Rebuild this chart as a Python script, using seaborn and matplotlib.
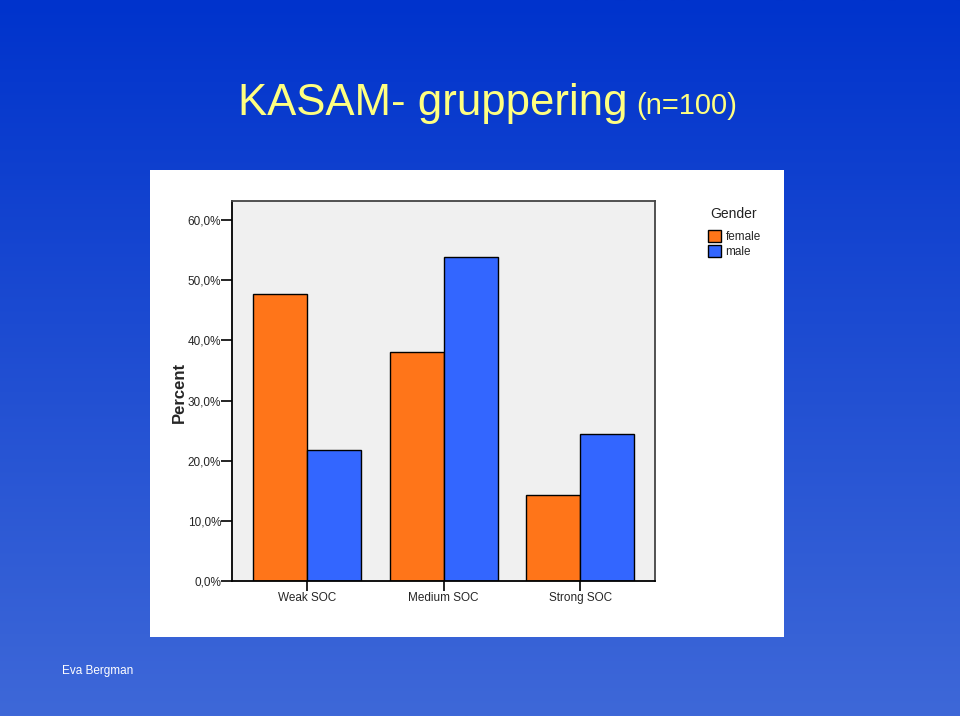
import numpy as np
import pandas as pd
import matplotlib
matplotlib.use("Agg")
import matplotlib.pyplot as plt
from matplotlib.patches import Rectangle
import seaborn as sns

categories = ["Weak SOC", "Medium SOC", "Strong SOC"]
female = [47.7, 38.1, 14.3]
male = [21.8, 53.9, 24.4]
yticks = [0, 10, 20, 30, 40, 50, 60]
ytick_labels = ["0,0%", "10,0%", "20,0%", "30,0%", "40,0%", "50,0%", "60,0%"]

df = pd.DataFrame({
    "SOC": categories * 2,
    "Gender": ["female"] * 3 + ["male"] * 3,
    "Percent": female + male,
})

sns.set_style("white")
plt.rcParams["font.family"] = ["Liberation Sans", "DejaVu Sans"]

fig = plt.figure(figsize=(9.6, 7.16), dpi=100)

# gradient background
bg = fig.add_axes([0, 0, 1, 1], zorder=-10)
top = np.array([0, 51, 204]) / 255
bot = np.array([62, 104, 216]) / 255
t = np.linspace(0, 1, 256)[:, None]
grad = (top[None, :] * (1 - t) + bot[None, :] * t)[:, None, :]
bg.imshow(grad, aspect="auto", extent=[0, 1, 0, 1])
bg.set_axis_off()

fig.patches.append(Rectangle((150 / 960, 1 - 636.7 / 716), 634 / 960, 466.7 / 716,
                             transform=fig.transFigure, facecolor="white",
                             edgecolor="none", zorder=-5))

ax = fig.add_axes([232.3 / 960, 1 - 581.3 / 716, 422.7 / 960, 380.6 / 716])
ax.set_facecolor("#f0f0f0")
sns.barplot(data=df, x="SOC", y="Percent", hue="Gender",
            palette={"female": "#ff7519", "male": "#3366ff"},
            edgecolor="black", linewidth=1.0, width=0.79, gap=0, ax=ax,
            errorbar=None, saturation=1)
ax.set_xlim(-0.548, 2.548)
ax.set_ylim(0, 63.2)
ax.set_yticks(yticks)
ax.set_yticklabels(ytick_labels, fontsize=8.5)
ax.tick_params(axis="y", which="major", direction="out", length=8, width=1.2,
               color="black", left=True, pad=0)
ax.tick_params(axis="x", which="major", direction="out", length=7, width=1.2,
               color="black", bottom=True, labelsize=8.5, pad=1)
ax.set_xlabel("")
ax.set_ylabel("Percent", fontsize=12, fontweight="bold")
ax.yaxis.set_label_coords(-0.108, 0.497)
for s in ["left", "bottom"]:
    ax.spines[s].set_color("black")
    ax.spines[s].set_linewidth(1.3)
for s in ["top", "right"]:
    ax.spines[s].set_color("#444444")
    ax.spines[s].set_linewidth(1.3)

leg = ax.legend(loc="upper left", bbox_to_anchor=(700 / 960, 1 - 222 / 716),
                bbox_transform=fig.transFigure, frameon=False,
                fontsize=8.5, handlelength=1.05, handleheight=1.1,
                handletextpad=0.4, labelspacing=0.2, borderpad=0.2)
for h in leg.legend_handles:
    h.set_edgecolor("black")
fig.text(710 / 960, 1 - 214 / 716, "Gender", fontsize=10, color="#222222",
         ha="left", va="center")

t1 = fig.text(238 / 960, 1 - 103 / 716, "KASAM- gruppering", color="#ffff80",
              fontsize=31.5, ha="left", va="center")
fig.canvas.draw()
ext = t1.get_window_extent(renderer=fig.canvas.get_renderer())
fig.text((ext.x1 + 9) / 960, 1 - 106 / 716, "(n=100)", color="#ffff80",
         fontsize=21, ha="left", va="center")
fig.text(62 / 960, 1 - 671 / 716, "Eva Bergman", color="white", fontsize=8.5,
         ha="left", va="center")

fig.savefig("out.png", dpi=100)
